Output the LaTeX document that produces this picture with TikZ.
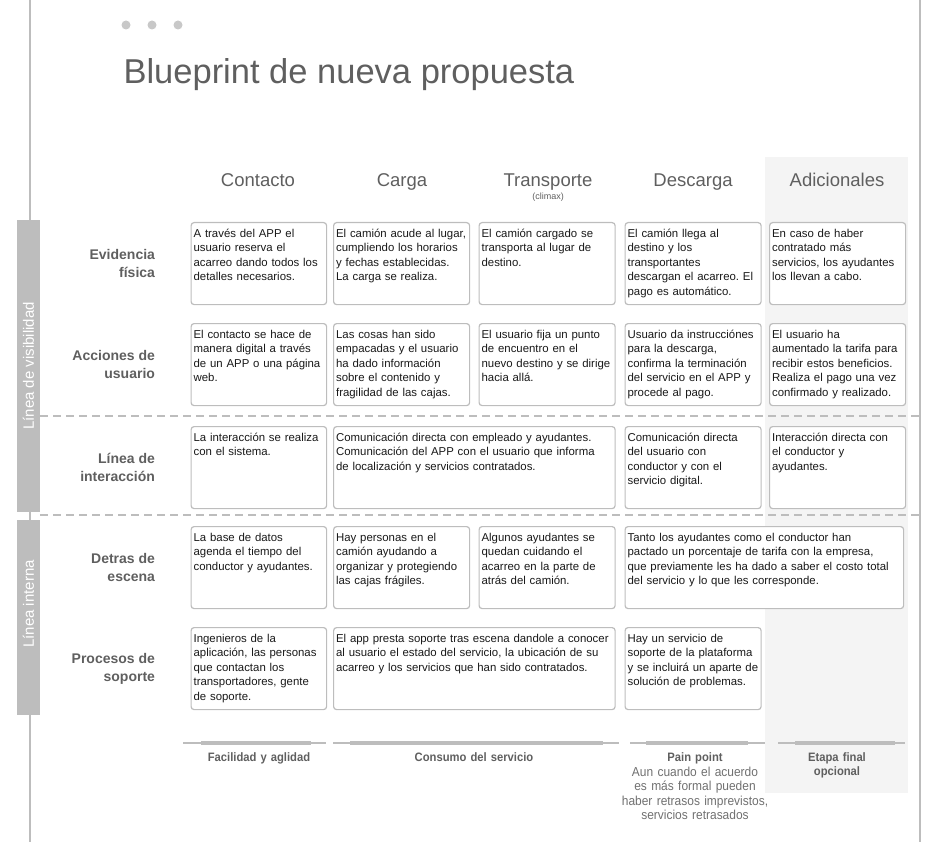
\documentclass[tikz,border=0pt]{standalone}
\usepackage{fontspec}
\setmainfont{Liberation Sans}
\newfontfamily\condfont[FakeStretch=0.92]{Liberation Sans}
\usetikzlibrary{positioning}
\frenchspacing

\definecolor{linegray}{RGB}{189,189,189}
\definecolor{labelgray}{RGB}{95,95,95}
\definecolor{colgray}{RGB}{244,244,244}
\definecolor{dotgray}{RGB}{200,200,200}
\definecolor{boxtext}{RGB}{25,25,25}
\definecolor{notegray}{RGB}{112,112,112}

\begin{document}
\begin{tikzpicture}[x=1pt, y=-1pt, node distance=32pt,
  box/.style={draw=linegray, line width=1.2pt, rounded corners=3pt, fill=white, anchor=north west,
    inner xsep=2.5pt, inner ysep=3pt, align=left, text width=#1, text height=11.5pt, text depth=64.5pt,
    text=boxtext, font=\fontsize{11.4}{14.5}\selectfont},
  header/.style={anchor=base, text=labelgray, font=\fontsize{18.5}{22}\selectfont},
  rowlabel/.style={align=right, text=labelgray, font=\bfseries\fontsize{14}{18}\selectfont},
  sidebar/.style={fill=linegray, inner sep=0pt, minimum width=23pt},
  sidelabel/.style={rotate=90, text=white, font=\fontsize{15}{18}\selectfont},
  sep/.style={draw=linegray, line width=1.5pt, dash pattern=on 8pt off 5pt},
  stage/.style={anchor=base, align=center, text width=150pt, inner sep=0pt, text=labelgray, font=\condfont\bfseries\fontsize{12.2}{14}\selectfont},
  note/.style={anchor=base, align=center, text width=160pt, inner sep=0pt, text=notegray, font=\condfont\fontsize{13}{14.5}\selectfont}]

\useasboundingbox (0,0) rectangle (950,842);

% Background column and frame lines
\fill[colgray] (765,157) rectangle (908,793);
\draw[linegray, line width=2pt] (30,0) -- (30,842);
\draw[linegray, line width=2pt] (920,0) -- (920,842);

% Window dots and title
\foreach \x in {126,152,178}
  \fill[dotgray] (\x,25) circle (4.5pt);
\node (title) [anchor=base west, text=labelgray, font=\fontsize{34.5}{40}\selectfont] at (120,84) {Blueprint de nueva propuesta};

% Stage headers
\node (hCon) [header] at (258,187) {Contacto};
\node (hCar) [header] at (402,187) {Carga};
\node (hTra) [header] at (548,187) {Transporte};
\node (hCli) [anchor=base, text=labelgray, font=\fontsize{9}{10}\selectfont] at (548,200) {(climax)};
\node (hDes) [header] at (693,187) {Descarga};
\node (hAdi) [header] at (837,187) {Adicionales};

% Side bars
\node (visBar) [sidebar, minimum height=292pt] at (28.5,366) {};
\node (visLab) [sidelabel] at (visBar) {Línea de visibilidad};
\node (intBar) [sidebar, minimum height=195pt] at (28.5,617.5) {};
\node (intLab) [sidelabel] at (28.5,604) {Línea interna};

% Lines of visibility and interaction
\draw[sep] (40,416) -- (920,416);
\draw[sep] (40,515) -- (920,515);

% Evidencia fisica
\node (ev1) [box=130.5pt] at (190.5,222) {A través del APP el\\usuario reserva el\\acarreo dando todos los\\detalles necesarios.};
\node (ev2) [box=131pt] at (333,222) {El camión acude al lugar,\\cumpliendo los horarios\\y fechas establecidas.\\La carga se realiza.};
\node (ev3) [box=131pt] at (478.5,222) {El camión cargado se\\transporta al lugar de\\destino.};
\node (ev4) [box=131pt] at (624.5,222) {El camión llega al\\destino y los\\transportantes\\descargan el acarreo. El\\pago es automático.};
\node (ev5) [box=131pt] at (769,222) {En caso de haber\\contratado más\\servicios, los ayudantes\\los llevan a cabo.};

% Acciones de usuario
\node (ac1) [box=130.5pt] at (190.5,323) {El contacto se hace de\\manera digital a través\\de un APP o una página\\web.};
\node (ac2) [box=131pt] at (333,323) {Las cosas han sido\\empacadas y el usuario\\ha dado información\\sobre el contenido y\\fragilidad de las cajas.};
\node (ac3) [box=131pt] at (478.5,323) {El usuario fija un punto\\de encuentro en el\\nuevo destino y se dirige\\hacia allá.};
\node (ac4) [box=131pt] at (624.5,323) {Usuario da instrucciónes\\para la descarga,\\confirma la terminación\\del servicio en el APP y\\procede al pago.};
\node (ac5) [box=131pt] at (769,323) {El usuario ha\\aumentado la tarifa para\\recibir estos beneficios.\\Realiza el pago una vez\\confirmado y realizado.};

% Linea de interaccion
\node (in1) [box=130.5pt] at (190.5,426) {La interacción se realiza\\con el sistema.};
\node (in23) [box=276.5pt] at (333,426) {Comunicación directa con empleado y ayudantes.\\Comunicación del APP con el usuario que informa\\de localización y servicios contratados.};
\node (in4) [box=131pt] at (624.5,426) {Comunicación directa\\del usuario con\\conductor y con el\\servicio digital.};
\node (in5) [box=131pt] at (769,426) {Interacción directa con\\el conductor y\\ayudantes.};

% Detras de escena
\node (de1) [box=130.5pt] at (190.5,526) {La base de datos\\agenda el tiempo del\\conductor y ayudantes.};
\node (de2) [box=131pt] at (333,526) {Hay personas en el\\camión ayudando a\\organizar y protegiendo\\las cajas frágiles.};
\node (de3) [box=131pt] at (478.5,526) {Algunos ayudantes se\\quedan cuidando el\\acarreo en la parte de\\atrás del camión.};
\node (de45) [box=273.5pt] at (624.5,526) {Tanto los ayudantes como el conductor han\\pactado un porcentaje de tarifa con la empresa,\\que previamente les ha dado a saber el costo total\\del servicio y lo que les corresponde.};

% Procesos de soporte
\node (pr1) [box=130.5pt] at (190.5,627) {Ingenieros de la\\aplicación, las personas\\que contactan los\\transportadores, gente\\de soporte.};
\node (pr23) [box=276.5pt] at (333,627) {El app presta soporte tras escena dandole a conocer\\al usuario el estado del servicio, la ubicación de su\\acarreo y los servicios que han sido contratados.};
\node (pr4) [box=131pt] at (624.5,627) {Hay un servicio de\\soporte de la plataforma\\y se incluirá un aparte de\\solución de problemas.};

% Row labels
\node (lEv) [rowlabel, left=of ev1] {Evidencia\\física};
\node (lAc) [rowlabel, left=of ac1] {Acciones de\\usuario};
\node (lIn) [rowlabel, left=of in1] {Línea de\\interacción};
\node (lDe) [rowlabel, left=of de1] {Detras de\\escena};
\node (lPr) [rowlabel, left=of pr1] {Procesos de\\soporte};

% Stage bars
\foreach \a/\b/\c/\d in {183/201/311/326, 333/350/603/619, 630/646/748/765, 778/795/895/905} {
  \draw[linegray, line width=1.5pt] (\a,743) -- (\d,743);
  \draw[linegray, line width=4.5pt] (\b,743) -- (\c,743);
}

% Stage notes
\node (sFac) [stage] at (259,761) {Facilidad y aglidad};
\node (sCon) [stage] at (474,761) {Consumo del servicio};
\node (sPain) [stage] at (695,761) {Pain point};
\node (sNote) [note] at (695,776) {Aun cuando el acuerdo\\es más formal pueden\\haber retrasos imprevistos,\\servicios retrasados};
\node (sEta) [stage] at (837,761) {Etapa final\\opcional};

\end{tikzpicture}
\end{document}
